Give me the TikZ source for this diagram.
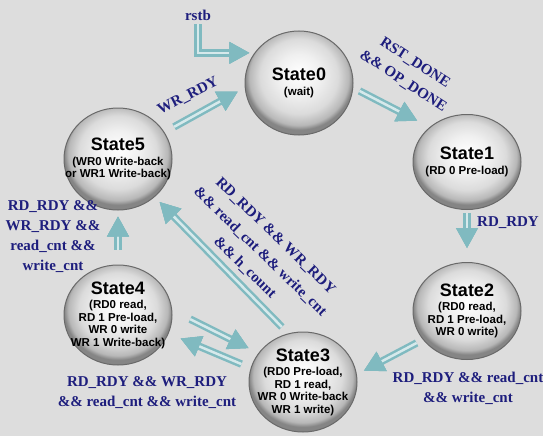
\documentclass[tikz,border=0pt]{standalone}
\usepackage{fontspec}
\setmainfont{Liberation Serif}
\setsansfont{Liberation Sans}
\usepackage{xcolor}
\usepackage{tikz}
\definecolor{bggray}{RGB}{221, 221, 221}
\definecolor{labelblue}{RGB}{30, 30, 125}
\definecolor{arrowteal}{RGB}{128, 186, 192}
\definecolor{arrowlight}{RGB}{214, 233, 235}
\definecolor{rimgray}{RGB}{105, 105, 105}
\usetikzlibrary{shapes.geometric, arrows.meta, positioning, calc}
\pgfdeclareradialshading{stateball}{\pgfpoint{0bp}{5bp}}{color(0bp)=(white); color(10bp)=(white!94!black); color(18bp)=(white!86!black); color(23bp)=(white!72!black); color(25bp)=(white!52!black); color(50bp)=(white!52!black)}
\newcommand{\sname}[1]{{\fontsize{18}{20}\selectfont #1}}

\begin{document}
\begin{tikzpicture}[x=1pt, y=-1pt,
        state/.style={ellipse, draw=rimgray, line width=1pt, shading=stateball,
              minimum width=108pt, minimum height=100pt, inner sep=0pt},
        stext/.style={align=center, inner sep=0pt,
              font=\sffamily\bfseries\fontsize{11.5}{12.5}\selectfont},
        cond/.style={text=labelblue, font=\bfseries\fontsize{15}{20}\selectfont,
              align=center, inner sep=1pt},
        flow/.style={draw=arrowteal, line width=7.5pt,
              -{Triangle[length=20pt, width=22pt, line width=0.5pt]},
              postaction={draw=arrowlight, line width=2.5pt,
                  -{Triangle[length=20pt, width=22pt, line width=0.5pt, color=arrowteal]}}}]
        \fill[bggray] (0,0) rectangle (543,436);
        \useasboundingbox (0,0) rectangle (543,436);

        \node[state, minimum height=104pt, label={[stext]center:{\sname{State0}\\[2pt](wait)}}] (s0) at (299, 83) {};
        \node[state, minimum height=95pt, label={[stext]center:{\sname{State1}\\[2pt](RD 0 Pre-load)}}] (s1) at (467, 162) {};
        \node[state, minimum height=97pt, label={[stext]center:{\sname{State2}\\[2pt](RD0 read,\\RD 1 Pre-load,\\WR 0 write)}}] (s2) at (467, 311) {};
        \node[state, label={[stext]center:{\sname{State3}\\[2pt](RD0 Pre-load,\\RD 1 read,\\WR 0 Write-back\\WR 1 write)}}] (s3) at (303, 382) {};
        \node[state, label={[stext]center:{\sname{State4}\\[2pt](RD0 read,\\RD 1 Pre-load,\\WR 0 write\\WR 1 Write-back)}}] (s4) at (118, 315) {};
        \node[state, minimum height=102pt, label={[stext]center:{\sname{State5}\\[2pt](WR0 Write-back\\or WR1 Write-back)}}] (s5) at (118, 159) {};

        \node[cond] (rstb) at (198, 15) {rstb};
        \node[cond, rotate=27] (wrrdy) at (188, 96) {WR\_RDY};
        \node[cond, rotate=-33, font=\bfseries\fontsize{15}{22}\selectfont] (opdone) at (409, 72) {RST\_DONE\\\&\& OP\_DONE};
        \node[cond] (rdrdy) at (508, 223) {RD\_RDY};
        \node[cond] (rdcnt) at (468, 388) {RD\_RDY \&\& read\_cnt\\\&\& write\_cnt};
        \node[cond, rotate=-44, font=\bfseries\fontsize{15}{22}\selectfont] (hcount) at (260, 252) {RD\_RDY \&\& WR\_RDY\\\&\& read\_cnt \&\& write\_cnt\\\&\& h\_count};
        \node[cond] (wbcnt) at (53, 237) {RD\_RDY \&\&\\WR\_RDY \&\&\\read\_cnt \&\&\\write\_cnt};
        \node[cond] (rwcnt) at (147, 393) {RD\_RDY \&\& WR\_RDY\\\&\& read\_cnt \&\& write\_cnt};

        \draw[flow, shorten <=3pt, shorten >=5pt] (rstb.south) |- (s0.146);
        \draw[flow, shorten <=11pt, shorten >=8pt] (s5.30) -- (s0.185);
        \draw[flow, shorten <=7pt, shorten >=14pt] (s0.355) -- (s1.137);
        \draw[flow, shorten <=3pt, shorten >=14pt] (s1.south) -- (s2.north);
        \draw[flow, shorten <=7pt, shorten >=8pt] (s2.213) -- (s3.8);
        \draw[flow, shorten <=9pt, shorten >=7pt] (s3.107) -- (s5.314);
        \draw[flow, shorten <=15pt, shorten >=6pt] (s4.north) -- (s5.south);
        \draw[flow, shorten <=20pt, shorten >=11pt] (s4.5) -- (s3.147);
        \draw[flow, shorten <=10pt, shorten >=13pt] (s3.165) -- (s4.340);
    \end{tikzpicture}
\end{document}
